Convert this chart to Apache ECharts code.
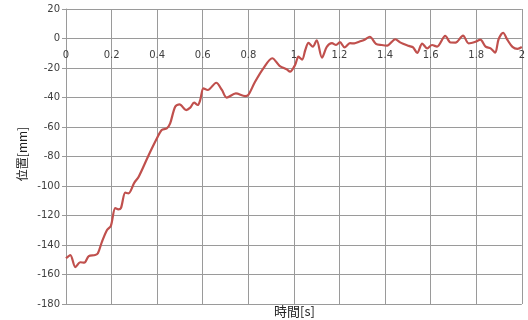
<!DOCTYPE html>
<html>
<head>
<meta charset="utf-8">
<script src="https://cdn.jsdelivr.net/npm/echarts@6/dist/echarts.min.js"></script>
<style>
  html, body { margin: 0; padding: 0; background: #fff; }
  #chart { width: 528px; height: 320px; }
</style>
</head>
<body>
<div id="chart"></div>
<script>
// Measured position over time (s -> mm)
const times = [
  0, 0.019, 0.041, 0.063, 0.08, 0.1, 0.128, 0.14, 0.158, 0.18,
  0.197, 0.216, 0.23, 0.241, 0.26, 0.274, 0.3, 0.319, 0.36, 0.399,
  0.42, 0.442, 0.457, 0.479, 0.498, 0.527, 0.545, 0.562, 0.578, 0.589,
  0.603, 0.622, 0.659, 0.684, 0.705, 0.745, 0.786, 0.8, 0.829, 0.866,
  0.905, 0.937, 0.968, 0.983, 1.005, 1.02, 1.036, 1.05, 1.064, 1.083,
  1.1, 1.123, 1.145, 1.167, 1.185, 1.202, 1.222, 1.246, 1.265, 1.286,
  1.31, 1.333, 1.36, 1.385, 1.409, 1.445, 1.468, 1.504, 1.523, 1.541,
  1.563, 1.585, 1.606, 1.628, 1.664, 1.687, 1.709, 1.742, 1.767, 1.797,
  1.818, 1.841, 1.863, 1.883, 1.898, 1.918, 1.937, 1.959, 1.981, 2.0
];
const positions = [
  -149, -146.8, -155, -151.7, -152, -147.5, -146.8, -145.6, -137.7, -129.8,
  -127, -115, -115.8, -115, -104.5, -105, -97.7, -93.7, -80, -67.7,
  -62, -60.9, -57.5, -46.2, -44.6, -48.5, -46.9, -43.5, -45.1, -41.7,
  -33.8, -34.9, -30, -34.9, -40.1, -37.2, -39, -38.3, -29.5, -20.2,
  -13.4, -18.5, -20.9, -22.5, -18, -12.3, -14.3, -7.8, -3, -5.5,
  -1.2, -13, -5.5, -3.2, -4.4, -2.5, -6, -3.2, -3.3, -2.2,
  -0.8, 1.2, -3.6, -4.4, -4.8, -0.5, -2.8, -5, -6, -9.8,
  -3.5, -6.7, -4.4, -5.5, 1.8, -2.7, -2.8, 1.9, -3.3, -2.2,
  -0.8, -5.5, -6.7, -9.6, -0.5, 3.9, -1, -5.7, -7, -5.8
];
const xTicks = { min: 0, max: 2, interval: 0.2 };
const yTicks = { min: -180, max: 20, interval: 20 };
const xTitle = '時間[s]';
const yTitle = '位置[mm]';

const chart = echarts.init(document.getElementById('chart'), null, { renderer: 'canvas' });
const gridColor = '#9a9a9a';
const labelColor = '#404040';

chart.setOption({
  animation: false,
  backgroundColor: '#ffffff',
  grid: { left: 66, right: 6, top: 9, bottom: 16, containLabel: false },
  xAxis: {
    type: 'value',
    position: 'bottom',
    min: xTicks.min, max: xTicks.max, interval: xTicks.interval,
    // the 0 mm grid line already draws the crossing line
    axisLine: { show: false, onZero: false },
    axisTick: { show: false },
    axisLabel: {
      color: labelColor, fontSize: 10, margin: 9,
      fontFamily: 'DejaVu Sans',
      formatter: v => String(Math.round(v * 10) / 10)
    },
    splitLine: { show: true, lineStyle: { color: gridColor, width: 1 } }
  },
  yAxis: {
    type: 'value',
    min: yTicks.min, max: yTicks.max, interval: yTicks.interval,
    axisLine: { show: true, onZero: false, lineStyle: { color: gridColor, width: 1 } },
    axisTick: { show: true, length: 4, lineStyle: { color: gridColor } },
    axisLabel: { color: labelColor, fontSize: 10, margin: 6, fontFamily: 'DejaVu Sans' },
    splitLine: { show: true, lineStyle: { color: gridColor, width: 1 } }
  },
  graphic: [
    {
      type: 'text', left: 274, top: 305,
      style: { text: xTitle, fill: '#222', font: '13px "Noto Sans CJK JP"' }
    },
    {
      type: 'text', x: 22, y: 154, rotation: Math.PI / 2,
      style: {
        text: yTitle, fill: '#222', font: '12px "Noto Sans CJK JP"',
        align: 'center', verticalAlign: 'middle'
      }
    }
  ],
  series: [{
    type: 'line',
    data: times.map((t, i) => [t, positions[i]]),
    smooth: 0.3,
    showSymbol: false,
    lineStyle: { color: '#C0504D', width: 2.2 },
    z: 5
  }]
});

// Lift the time axis labels so that they sit just under the 0 mm line.
const zeroY = chart.convertToPixel({ yAxisIndex: 0 }, 0);
const bottomY = chart.convertToPixel({ yAxisIndex: 0 }, yTicks.min);
chart.setOption({ xAxis: { offset: -(bottomY - zeroY) } });
</script>
</body>
</html>
